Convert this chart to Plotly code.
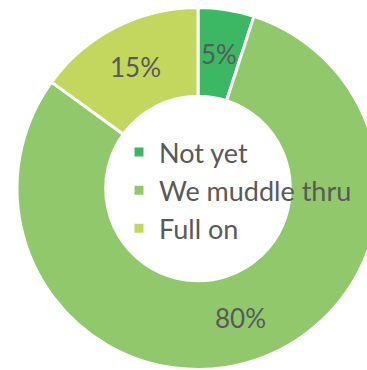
import math
import plotly.graph_objects as go

# Survey answers and their shares (%)
labels = ["Not yet", "We muddle thru", "Full on"]
values = [5, 80, 15]
colors = ["#3CB764", "#92C86C", "#C3D65E"]

W, H = 380, 370
HOLE = 0.51
DOM_X = [17 / W, 379 / W]
DOM_Y = [0, 1 - 7 / H]

fig = go.Figure(
    go.Pie(
        labels=labels,
        values=values,
        sort=False,
        direction="clockwise",
        rotation=0,
        hole=HOLE,
        marker=dict(colors=colors, line=dict(color="white", width=3)),
        textinfo="none",
        domain=dict(x=DOM_X, y=DOM_Y),
        hoverinfo="label+percent",
    )
)

# Percentage labels centred in the ring at each slice's mid-angle
cx = (DOM_X[0] + DOM_X[1]) / 2 * W
cy = (1 - (DOM_Y[0] + DOM_Y[1]) / 2) * H
r_out = min((DOM_X[1] - DOM_X[0]) * W, (DOM_Y[1] - DOM_Y[0]) * H) / 2
r_lab = r_out * (1 + HOLE) / 2
total = sum(values)
start = 0.0
for v in values:
    mid = math.radians((start + v / 2) / total * 360)
    px = cx + r_lab * math.sin(mid)
    py = cy - r_lab * math.cos(mid)
    fig.add_annotation(
        x=px / W, y=1 - py / H, xref="paper", yref="paper",
        xanchor="center", yanchor="middle",
        text=f"{v}%", showarrow=False,
        font=dict(family="Lato", size=26, color="#595959"),
    )
    start += v

fig.update_layout(
    width=W,
    height=H,
    margin=dict(l=0, r=0, t=0, b=0),
    paper_bgcolor="white",
    showlegend=True,
    legend=dict(
        x=119 / W,
        xanchor="left",
        y=1 - 128 / H,
        yanchor="top",
        bgcolor="rgba(0,0,0,0)",
        font=dict(family="Lato", size=27, color="#595959"),
    ),
)

fig.write_html(
    "out.html",
    post_script="document.documentElement.style.overflow='hidden';document.body.style.overflow='hidden';",
)
